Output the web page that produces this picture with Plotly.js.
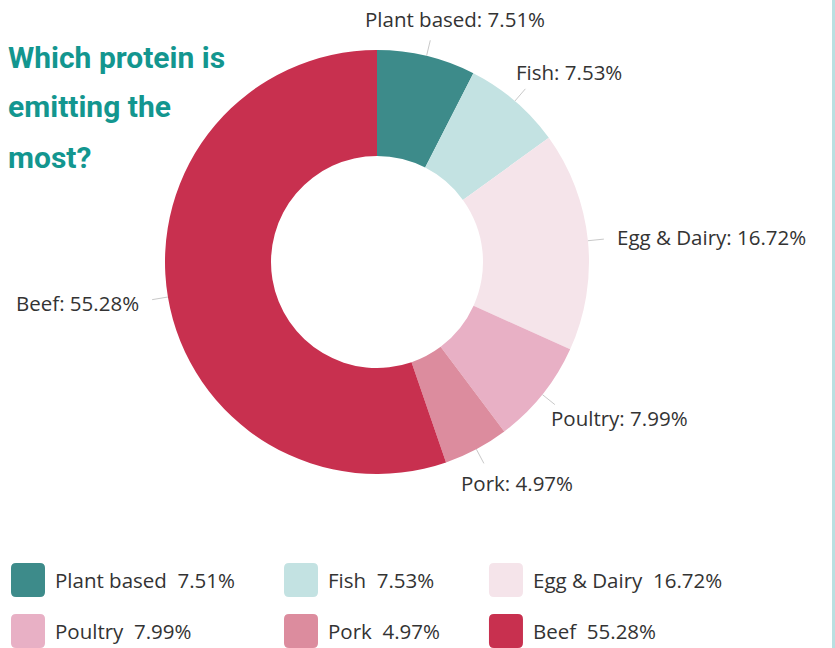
<!DOCTYPE html>
<html>
<head>
<meta charset="utf-8">
<script src="https://cdn.plot.ly/plotly-3.0.1.min.js"></script>
<style>
html,body{margin:0;padding:0;background:#fff;}
#chart{width:835px;height:648px;}
</style>
</head>
<body>
<div id="chart"></div>
<script>
// ---- data ----
const categories = ['Plant based', 'Fish', 'Egg & Dairy', 'Poultry', 'Pork', 'Beef'];
const shares = [7.51, 7.53, 16.72, 7.99, 4.97, 55.28];
const sliceColors = ['#3d8b8a', '#c3e2e2', '#f5e4ea', '#e8b0c5', '#dc8c9e', '#c8304f'];
const titleLines = ['Which protein is', 'emitting the', 'most?'];

// ---- layout constants (pixels) ----
const W = 835, H = 648;
const CX = 377, CY = 262, R = 212;
const HOLE = 0.5;
const LABEL_FONT = 'Open Sans';
const LABEL_SIZE = 20.5;
const TEXT_COLOR = '#333333';

function px(p) { return p / W; }
function py(p) { return 1 - p / H; }

const ctx = document.createElement('canvas').getContext('2d');
ctx.font = LABEL_SIZE + 'px "' + LABEL_FONT + '"';
function textW(s) { return ctx.measureText(s).width; }

const pct = v => v.toFixed(2) + '%';
const total = shares.reduce((a, b) => a + b, 0);

const shapes = [];
const annotations = [];

// leader lines and outside labels
let cum = 0;
shares.forEach((v, i) => {
  const th = 2 * Math.PI * (cum + v / 2) / total;
  cum += v;
  const s = Math.sin(th), c = Math.cos(th);
  const r1 = R, r2 = R + 16;
  const x1 = CX + r1 * s, y1 = CY - r1 * c;
  const x2 = CX + r2 * s, y2 = CY - r2 * c;
  shapes.push({type: 'line', xref: 'paper', yref: 'paper',
    x0: px(x1), y0: py(y1), x1: px(x2), y1: py(y2),
    line: {color: '#c9c9c9', width: 1}});
  const txt = categories[i] + ': ' + pct(v);
  const w = textW(txt);
  const tx = x2 + s * (w / 2 + 14);
  const ty = y2 - c * 22;
  annotations.push({xref: 'paper', yref: 'paper', x: px(tx), y: py(ty),
    text: txt, showarrow: false, xanchor: 'center', yanchor: 'middle',
    font: {family: LABEL_FONT, size: LABEL_SIZE, color: TEXT_COLOR}});
});

// custom legend (3 columns, 2 rows)
const legendTexts = categories.map((c, i) => c + '\u00a0 ' + pct(shares[i]));
const NCOL = 3, SQ = 34, RAD = 5;
const rowY = [580, 631];
const colX = [11];
for (let c = 0; c < NCOL - 1; c++) {
  let mw = 0;
  legendTexts.forEach((t, i) => { if (i % NCOL === c) mw = Math.max(mw, textW(t)); });
  colX.push(colX[c] + SQ + 9 + mw + 50);
}
function roundRect(x, y, w, h, r) {
  const P = (a, b) => px(a) + ',' + py(b);
  return 'M' + P(x + r, y) + ' L' + P(x + w - r, y) + ' Q' + P(x + w, y) + ' ' + P(x + w, y + r) +
    ' L' + P(x + w, y + h - r) + ' Q' + P(x + w, y + h) + ' ' + P(x + w - r, y + h) +
    ' L' + P(x + r, y + h) + ' Q' + P(x, y + h) + ' ' + P(x, y + h - r) +
    ' L' + P(x, y + r) + ' Q' + P(x, y) + ' ' + P(x + r, y) + ' Z';
}
legendTexts.forEach((t, i) => {
  const col = i % NCOL, row = Math.floor(i / NCOL);
  const x = colX[col], yc = rowY[row];
  shapes.push({type: 'path', xref: 'paper', yref: 'paper',
    path: roundRect(x, yc - SQ / 2, SQ, SQ, RAD),
    fillcolor: sliceColors[i], line: {width: 0}});
  annotations.push({xref: 'paper', yref: 'paper', x: px(x + SQ + 8), y: py(yc),
    text: t, showarrow: false, xanchor: 'left', yanchor: 'middle',
    font: {family: LABEL_FONT, size: LABEL_SIZE, color: TEXT_COLOR}});
});

// title lines
const titleY = [57, 107, 158];
titleLines.forEach((t, i) => {
  annotations.push({xref: 'paper', yref: 'paper', x: px(6), y: py(titleY[i]),
    text: '<b>' + t + '</b>', showarrow: false, xanchor: 'left', yanchor: 'middle',
    font: {family: 'Roboto', size: 30, color: '#13968f'}});
});

// right accent band
shapes.push({type: 'rect', xref: 'paper', yref: 'paper', x0: px(832), x1: 1, y0: 0, y1: 1,
  fillcolor: '#b9e0e1', line: {width: 0}, layer: 'below'});

const trace = {
  type: 'pie',
  labels: categories,
  values: shares,
  marker: {colors: sliceColors, line: {width: 0}},
  hole: HOLE,
  sort: false,
  direction: 'clockwise',
  rotation: 0,
  textinfo: 'none',
  hoverinfo: 'label+percent',
  showlegend: false,
  domain: {x: [px(CX - R), px(CX + R)], y: [py(CY + R), py(CY - R)]}
};

const layout = {
  width: W, height: H,
  margin: {l: 0, r: 0, t: 0, b: 0},
  paper_bgcolor: '#ffffff',
  plot_bgcolor: '#ffffff',
  showlegend: false,
  shapes: shapes,
  annotations: annotations
};

Plotly.newPlot('chart', [trace], layout, {displayModeBar: false, staticPlot: true});
</script>
</body>
</html>
